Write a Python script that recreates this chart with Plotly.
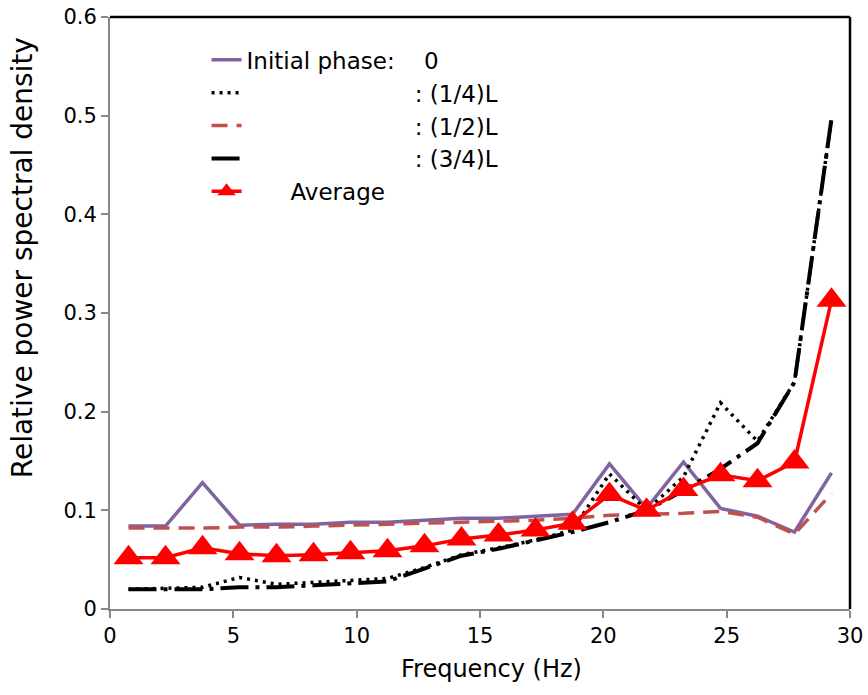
import plotly.graph_objects as go

# ---- data ----
freq = [0.75, 2.25, 3.75, 5.25, 6.75, 8.25, 9.75, 11.25, 12.75, 14.25,
        15.75, 17.25, 18.75, 20.25, 21.75, 23.25, 24.75, 26.25, 27.75, 29.25]

phase_0 = [0.084, 0.084, 0.128, 0.085, 0.086, 0.086, 0.088, 0.088, 0.090, 0.092,
           0.092, 0.094, 0.096, 0.147, 0.102, 0.149, 0.102, 0.094, 0.078, 0.138]
phase_quarter = [0.020, 0.021, 0.022, 0.032, 0.025, 0.027, 0.029, 0.031, 0.042, 0.055,
                 0.062, 0.070, 0.080, 0.137, 0.100, 0.134, 0.209, 0.170, 0.230, 0.497]
phase_half = [0.082, 0.082, 0.082, 0.083, 0.083, 0.084, 0.085, 0.086, 0.087, 0.088,
              0.089, 0.090, 0.092, 0.095, 0.096, 0.097, 0.099, 0.093, 0.076, 0.117]
phase_three_quarter = [0.020, 0.020, 0.020, 0.022, 0.022, 0.024, 0.026, 0.028, 0.041, 0.054,
                       0.061, 0.069, 0.078, 0.088, 0.100, 0.120, 0.142, 0.168, 0.230, 0.497]
average = [0.052, 0.052, 0.062, 0.056, 0.054, 0.055, 0.057, 0.059, 0.064, 0.071,
           0.075, 0.080, 0.087, 0.116, 0.100, 0.121, 0.136, 0.130, 0.149, 0.313]

NB = "\u00a0"
TH = "\u2009"
names = ["Initial phase:" + NB * 4 + "0",
         NB * 23 + ": (1/4)L",
         NB * 23 + ": (1/2)L",
         NB * 23 + ": (3/4)L",
         NB * 6 + "Average"]

x_ticks = [0, 5, 10, 15, 20, 25, 30]
y_ticks = [0, 0.1, 0.2, 0.3, 0.4, 0.5, 0.6]
y_tick_labels = ["0", "0.1", "0.2", "0.3", "0.4", "0.5", "0.6"]
x_title = "Frequency (Hz)"
y_title = "Relative power spectral density"

FONT = "DejaVu Sans"

fig = go.Figure()
fig.add_trace(go.Scatter(x=freq, y=phase_0, mode="lines", name=names[0],
                         line=dict(color="#8064A2", width=3.5)))
fig.add_trace(go.Scatter(x=freq, y=phase_quarter, mode="lines", name=names[1],
                         line=dict(color="black", width=3.5, dash="3px,5px")))
fig.add_trace(go.Scatter(x=freq, y=phase_half, mode="lines", name=names[2],
                         line=dict(color="#C0504D", width=3.5, dash="16px,9px")))
fig.add_trace(go.Scatter(x=freq, y=phase_three_quarter, mode="lines", name=names[3],
                         line=dict(color="black", width=4, dash="28px,7px,4px,7px")))
fig.add_trace(go.Scatter(x=freq, y=average, mode="lines+markers", name=names[4],
                         line=dict(color="#FF0000", width=3.5),
                         marker=dict(symbol="triangle-up", size=26, color="#FF0000")))

fig.update_layout(
    width=868, height=695,
    margin=dict(l=110, r=18, t=17, b=86),
    paper_bgcolor="white", plot_bgcolor="white",
    font=dict(family=FONT, size=21, color="black"),
    showlegend=True,
    legend=dict(x=0.1305, y=0.964, xanchor="left", yanchor="top",
                bgcolor="rgba(0,0,0,0)", font=dict(family=FONT, size=23, color="black"),
                tracegroupgap=0),
    shapes=[
        dict(type="line", xref="paper", yref="paper", x0=0, x1=1, y0=1, y1=1,
             line=dict(color="black", width=2.5)),
        dict(type="line", xref="paper", yref="paper", x0=1, x1=1, y0=0, y1=1,
             line=dict(color="black", width=2.5)),
    ],
    annotations=[
        dict(text=x_title, xref="paper", yref="paper", x=0.515, y=-0.1006,
             xanchor="center", yanchor="middle", showarrow=False,
             font=dict(family=FONT, size=24, color="black")),
        dict(text=y_title, xref="paper", yref="paper", x=-0.119, y=0.594,
             xanchor="center", yanchor="middle", showarrow=False, textangle=-90,
             font=dict(family=FONT, size=28, color="black")),
    ],
)
fig.update_xaxes(range=[0, 30], tickvals=x_ticks, ticks="outside", ticklen=7,
                 tickcolor="#888888", tickwidth=2, showline=True, linecolor="#888888",
                 linewidth=2, showgrid=False, zeroline=False, automargin=False,
                 tickfont=dict(family=FONT, size=21))
fig.update_yaxes(range=[0, 0.6], tickvals=y_ticks, ticktext=y_tick_labels, ticks="outside",
                 ticklen=7, tickcolor="#888888", tickwidth=2, showline=True,
                 linecolor="#888888", linewidth=2, showgrid=False, zeroline=False,
                 automargin=False, tickfont=dict(family=FONT, size=21))

fig.write_html("out.html")
